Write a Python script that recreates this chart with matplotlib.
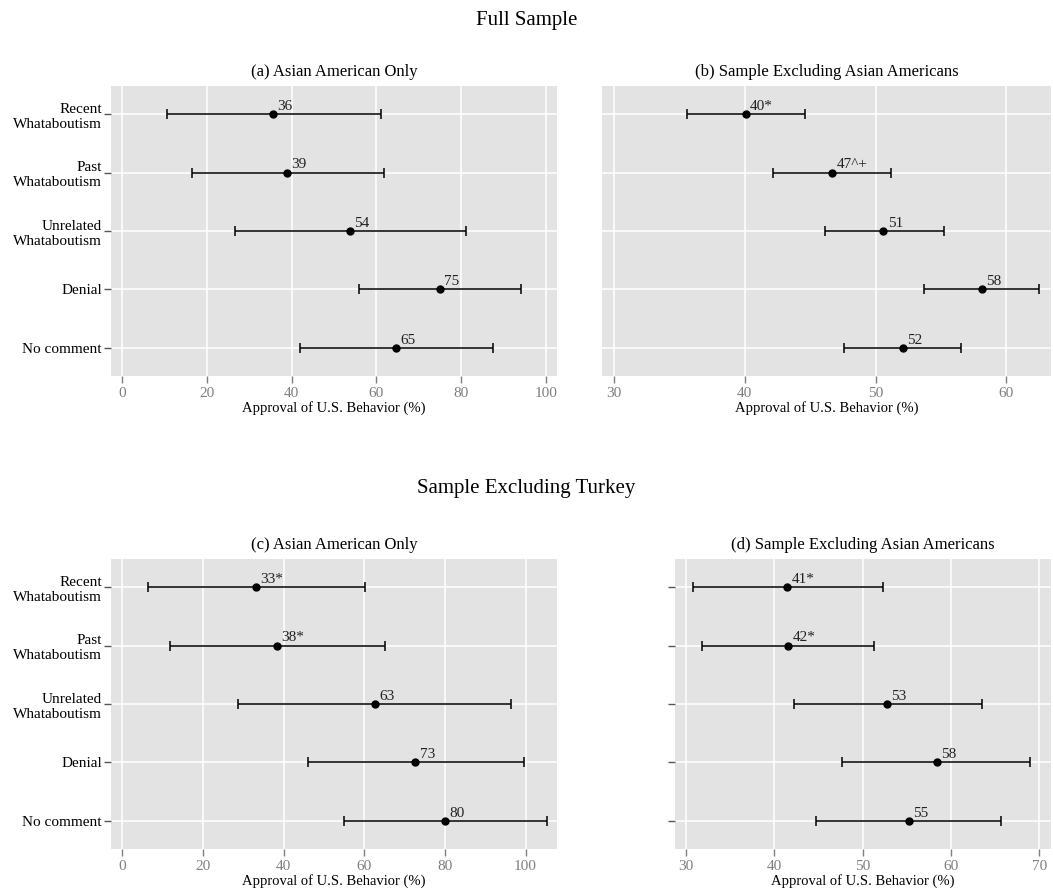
import numpy as np
from matplotlib import pyplot as plt

plt.rcParams['font.family'] = ['Liberation Serif', 'DejaVu Serif']

conditions = ["Recent\nWhataboutism", "Past\nWhataboutism", "Unrelated\nWhataboutism", "Denial", "No comment"]

# full sample
a_est = [35.7, 38.9, 53.8, 75.0, 64.6]
a_lo = [10.5, 16.4, 26.6, 55.8, 41.9]
a_hi = [61.0, 61.7, 81.1, 94.1, 87.6]
a_lab = ["36", "39", "54", "75", "65"]

b_est = [40.1, 46.7, 50.6, 58.1, 52.1]
b_lo = [35.6, 42.2, 46.1, 53.7, 47.6]
b_hi = [44.6, 51.2, 55.2, 62.5, 56.5]
b_lab = ["40*", "47^+", "51", "58", "52"]

# sample excluding turkey
c_est = [33.2, 38.4, 62.6, 72.7, 80.0]
c_lo = [6.4, 11.9, 28.6, 46.1, 55.0]
c_hi = [60.3, 65.2, 96.4, 99.5, 105.2]
c_lab = ["33*", "38*", "63", "73", "80"]

d_est = [41.5, 41.6, 52.8, 58.4, 55.2]
d_lo = [30.8, 31.9, 42.3, 47.7, 44.7]
d_hi = [52.3, 51.3, 63.5, 68.9, 65.7]
d_lab = ["41*", "42*", "53", "58", "55"]

W, H = 1053, 896
fig = plt.figure(figsize=(W/100, H/100), dpi=100)

def box(x0, y0, x1, y1):
    return [x0/W, 1-y1/H, (x1-x0)/W, (y1-y0)/H]

def panel(rect, est, lo, hi, labs, title, xlim, xticks, ylabels, yticks_marks):
    ax = fig.add_axes(rect)
    ax.set_facecolor("#E3E3E3")
    for s in ax.spines.values():
        s.set_visible(False)
    y = np.arange(1, len(est)+1)
    est = np.array(est)
    err = [est-np.array(lo), np.array(hi)-est]
    ax.errorbar(est, y, xerr=err, fmt='o', color='black', ms=5,
                elinewidth=1.1, capsize=3.5, capthick=1.1, zorder=3)
    for xi, yi, t in zip(est, y, labs):
        ax.annotate(t, (xi, yi), xytext=(3, 1), textcoords='offset points',
                    ha='left', va='bottom', fontsize=11, color='#222222')
    ax.set_xlim(xlim)
    ax.set_ylim(len(est)+0.48, 0.52)
    ax.set_xticks(xticks)
    ax.set_yticks(y)
    ax.grid(True, color='white', linewidth=1.1)
    ax.set_axisbelow(True)
    ax.tick_params(axis='x', colors='#7F7F7F', labelsize=11, length=5, width=1, pad=3)
    ax.tick_params(axis='y', colors='#555555', labelcolor='black', labelsize=11,
                   length=5 if yticks_marks else 0, width=1, pad=1.5)
    if ylabels:
        ax.set_yticklabels(conditions, ha='right', multialignment='right')
    else:
        ax.set_yticklabels([])
    ax.set_xlabel("Approval of U.S. Behavior (%)", fontsize=10.5, labelpad=1)
    ax.set_title(title, fontsize=12, pad=7)
    return ax

panel(box(111, 86, 557, 376), a_est, a_lo, a_hi, a_lab, "(a) Asian American Only",
      (-2.6, 102.6), [0, 20, 40, 60, 80, 100], True, True)
panel(box(602, 86, 1051, 376), b_est, b_lo, b_hi, b_lab, "(b) Sample Excluding Asian Americans",
      (29.1, 63.4), [30, 40, 50, 60], False, False)
panel(box(111, 559, 557, 849), c_est, c_lo, c_hi, c_lab, "(c) Asian American Only",
      (-2.8, 107.8), [0, 20, 40, 60, 80, 100], True, True)
panel(box(675, 559, 1051, 849), d_est, d_lo, d_hi, d_lab, "(d) Sample Excluding Asian Americans",
      (28.8, 71.3), [30, 40, 50, 60, 70], False, True)

fig.text(0.5, 1-21/H, "Full Sample", ha='center', va='center', fontsize=15)
fig.text(0.5, 1-488/H, "Sample Excluding Turkey", ha='center', va='center', fontsize=15)

plt.savefig("out.png", dpi=100)
